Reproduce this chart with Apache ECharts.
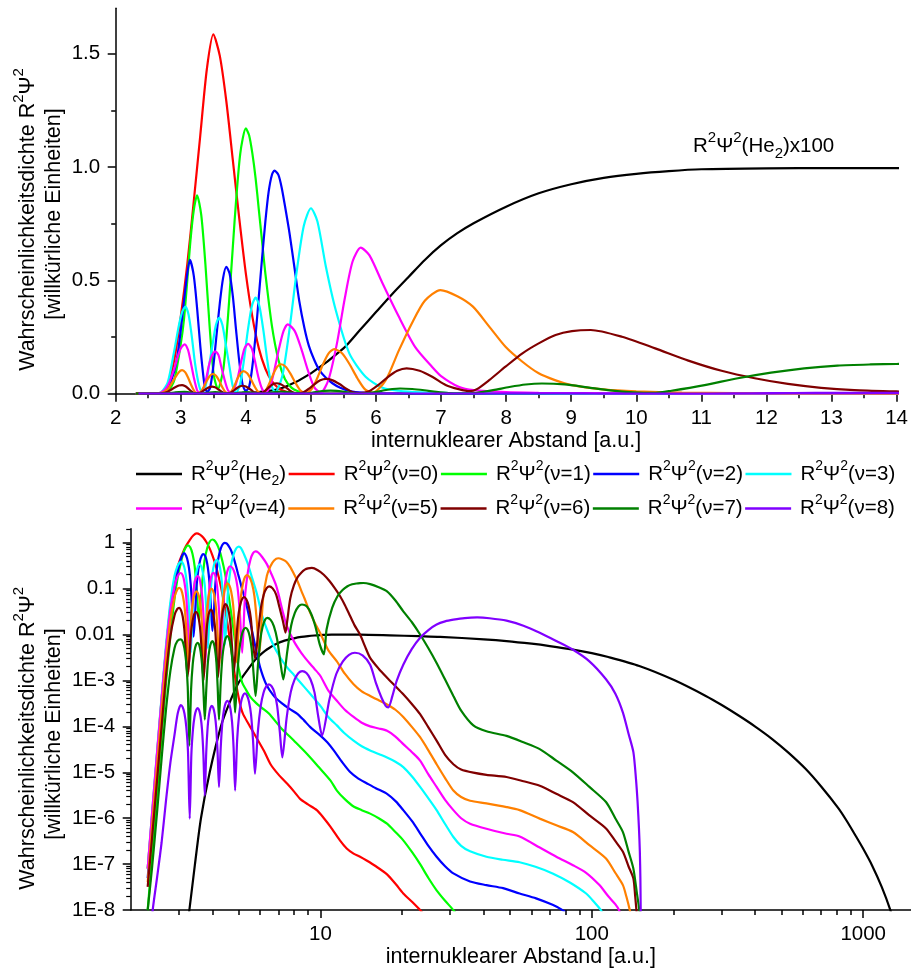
<!DOCTYPE html>
<html><head><meta charset="utf-8">
<script src="https://cdn.jsdelivr.net/npm/echarts@6/dist/echarts.min.js"></script>
<style>html,body{margin:0;padding:0;background:#fff}#c{width:911px;height:969px}</style>
</head><body><div id="c"></div>
<script>
const FONT = "'Liberation Sans', Arial, Helvetica, sans-serif";

// ---- data: [internuclear distance (a.u.), R^2 Psi^2] ----
const He2 = [[3.2,3e-9],[3.29,1e-8],[3.45,1e-7],[3.63,1e-6],[3.91,1e-5],[4.3,1e-4],[4.6,3e-4],[5.0,9e-4],[5.5,2e-3],[5.75,2.8e-3],[6.0,3.6e-3],[6.25,4.4e-3],[6.5,5.15e-3],[6.75,5.9e-3],[7.0,6.55e-3],[7.25,7.08e-3],[7.5,7.52e-3],[8.0,8.25e-3],[8.5,8.84e-3],[9.0,9.24e-3],[9.5,9.52e-3],[10,9.7e-3],[10.5,9.82e-3],[11,9.9e-3],[12,9.94e-3],[13,9.95e-3],[14,9.95e-3],[18,9.6e-3],[23,9.2e-3],[27.6,8.9e-3],[40,7.85e-3],[48.5,7.2e-3],[60,6.3e-3],[70,5.6e-3],[85.2,4.7e-3],[100,3.93e-3],[115,3.23e-3],[149.6,2.06e-3],[200,1.03e-3],[263,4.6e-4],[300,2.95e-4],[348.6,1.7e-4],[400,9.9e-5],[462,5.3e-5],[530,2.68e-5],[613,1.19e-5],[700,4.9e-6],[812,1.62e-6],[870,8.7e-7],[935,4.27e-7],[1000,2.16e-7],[1077,9.5e-8],[1170,3.2e-8],[1259,1e-8],[1300,5e-9]];

const v0 = [[2.31,8e-8],[2.4,1.2e-6],[2.5,2.4e-5],[2.6,4e-4],[2.7,5e-3],[2.8,0.04],[2.9,0.15],[3.0,0.34],[3.1,0.57],[3.2,0.85],[3.3,1.14],[3.4,1.43],[3.5,1.585],[3.6,1.49],[3.7,1.29],[3.8,1.03],[3.9,0.77],[4.0,0.53],[4.1,0.34],[4.2,0.2],[4.3,0.11],[4.4,0.055],[4.5,0.025],[4.6,0.011],[4.7,4.5e-3],[4.8,1.8e-3],[4.9,8e-4],[5.0,4.2e-4],[5.1,2.5e-4],[5.2,1.8e-4],[5.5,1e-4],[5.8,5.8e-5],[6.2,2.9e-5],[6.55,1.5e-5],[7.0,9e-6],[7.55,5.6e-6],[8.0,3.8e-6],[8.44,2.6e-6],[9.0,2.0e-6],[9.7,1.5e-6],[10.3,1.0e-6],[10.9,6.5e-7],[11.8,3.3e-7],[12.5,2.2e-7],[13.25,1.7e-7],[14,1.45e-7],[14.8,1.2e-7],[16,9e-8],[17.6,6e-8],[19,3.6e-8],[20.2,2.3e-8],[21.8,1.5e-8],[23.3,1e-8],[25,6e-9]];

const v1 = [[2.31,1e-8],[2.4,1.6e-7],[2.5,3.5e-6],[2.6,6e-5],[2.7,9e-4],[2.8,9e-3],[2.9,0.06],[3.0,0.22],[3.05,0.33],[3.1,0.5],[3.15,0.68],[3.2,0.81],[3.25,0.875],[3.314,0.79],[3.378,0.573],[3.442,0.302],[3.506,0.084],[3.57,0.02],[3.656,0.112],[3.742,0.404],[3.828,0.766],[3.914,1.059],[4.0,1.17],[4.05,1.14],[4.1,1.06],[4.15,0.95],[4.2,0.81],[4.25,0.67],[4.3,0.53],[4.4,0.3],[4.5,0.15],[4.6,0.065],[4.7,0.027],[4.8,0.011],[4.9,4.2e-3],[5.0,1.8e-3],[5.15,9e-4],[5.3,6.5e-4],[5.5,4.5e-4],[5.8,3.2e-4],[6.1,2.5e-4],[6.46,1.9e-4],[7.13,9.5e-5],[7.98,4.9e-5],[8.93,2.5e-5],[9.86,1.3e-5],[10.9,6.6e-6],[11.5,4e-6],[12.3,2.6e-6],[13.25,1.8e-6],[14.2,1.5e-6],[15.25,1.26e-6],[16.4,1e-6],[17.6,7.6e-7],[18.9,5e-7],[20.2,3.3e-7],[21.8,1.8e-7],[23.3,1e-7],[25,5e-8],[26.8,2.7e-8],[28.8,1.6e-8],[30.9,1e-8],[33,6e-9]];

const v2 = [[2.31,5e-8],[2.4,8e-7],[2.5,1.4e-5],[2.6,2.2e-4],[2.7,2.8e-3],[2.8,0.022],[2.9,0.1],[2.95,0.17],[3.0,0.28],[3.05,0.41],[3.1,0.53],[3.14,0.59],[3.2,0.52],[3.25,0.38],[3.3,0.21],[3.35,0.07],[3.38,0.018],[3.41,0.009],[3.45,0.025],[3.5,0.12],[3.55,0.26],[3.6,0.4],[3.65,0.51],[3.7,0.56],[3.75,0.53],[3.8,0.43],[3.85,0.28],[3.9,0.14],[3.95,0.04],[4.0,0.012],[4.05,0.03],[4.1,0.12],[4.15,0.26],[4.2,0.43],[4.25,0.6],[4.3,0.76],[4.35,0.89],[4.4,0.965],[4.44,0.984],[4.5,0.965],[4.55,0.91],[4.6,0.83],[4.67,0.71],[4.75,0.55],[4.82,0.41],[4.9,0.29],[4.97,0.21],[5.05,0.15],[5.13,0.104],[5.23,0.07],[5.33,0.046],[5.45,0.026],[5.6,0.012],[5.8,4.5e-3],[6.0,1.9e-3],[6.3,8.5e-4],[6.7,4.8e-4],[7.2,3.2e-4],[7.7,2.4e-4],[8.2,1.9e-4],[8.7,1.35e-4],[9.2,9.5e-5],[10,6.3e-5],[10.6,4.5e-5],[11.2,3e-5],[12,1.7e-5],[12.9,1e-5],[13.8,7.3e-6],[14.8,5.8e-6],[16,4.5e-6],[17.6,3.4e-6],[19,2.3e-6],[20.2,1.5e-6],[21.8,8.5e-7],[23.3,4.7e-7],[25,2.5e-7],[26.8,1.45e-7],[28.8,9e-8],[30.9,6.3e-8],[35.6,4.2e-8],[40.9,3.5e-8],[47.1,3e-8],[54.2,2.3e-8],[62.3,1.8e-8],[71.7,1.3e-8],[78,1e-8],[82,8e-9]];

const v3 = [[2.31,8e-8],[2.4,1.4e-6],[2.5,2.7e-5],[2.6,4.5e-4],[2.7,6e-3],[2.8,0.05],[2.9,0.19],[2.97,0.3],[3.02,0.36],[3.07,0.384],[3.12,0.348],[3.17,0.251],[3.22,0.132],[3.28,0.037],[3.33,0.004],[3.38,0.032],[3.43,0.116],[3.49,0.22],[3.54,0.303],[3.59,0.335],[3.64,0.303],[3.69,0.22],[3.75,0.116],[3.8,0.032],[3.85,0.005],[3.91,0.04],[3.97,0.146],[4.03,0.278],[4.09,0.384],[4.15,0.424],[4.21,0.384],[4.27,0.278],[4.33,0.146],[4.39,0.04],[4.45,0.006],[4.56,0.078],[4.67,0.282],[4.78,0.536],[4.89,0.74],[5.0,0.818],[5.1,0.76],[5.23,0.56],[5.38,0.37],[5.59,0.178],[5.84,0.075],[6.1,0.026],[6.35,0.013],[6.7,6e-3],[7.1,3.2e-3],[7.55,1.9e-3],[8.0,1.3e-3],[8.44,9e-4],[9.2,5e-4],[10,2.8e-4],[10.7,1.6e-4],[11.5,1.05e-4],[12.3,7e-5],[13.25,4.9e-5],[14.2,3.7e-5],[15.25,3e-5],[16.4,2.5e-5],[17.6,2.1e-5],[18.9,1.7e-5],[20.2,1.3e-5],[21.8,8e-6],[23.3,4.8e-6],[25,2.7e-6],[26.8,1.5e-6],[28.8,7.5e-7],[30.9,3.9e-7],[33,2.5e-7],[35.6,1.9e-7],[40.9,1.45e-7],[47,1.25e-7],[54.2,1.1e-7],[62,8.8e-8],[71.7,6.3e-8],[83,4e-8],[95.3,2.3e-8],[102,1.5e-8],[108,1e-8],[112,6e-9]];

const v4 = [[2.31,8e-8],[2.4,1.4e-6],[2.5,2.6e-5],[2.6,4e-4],[2.7,5e-3],[2.8,0.035],[2.9,0.11],[2.95,0.16],[3.0,0.2],[3.06,0.218],[3.11,0.194],[3.15,0.144],[3.2,0.072],[3.25,0.016],[3.29,2.5e-3],[3.34,0.018],[3.39,0.065],[3.43,0.122],[3.48,0.17],[3.53,0.187],[3.58,0.17],[3.62,0.122],[3.67,0.065],[3.72,0.018],[3.77,2.5e-3],[3.82,0.021],[3.88,0.076],[3.93,0.144],[3.98,0.2],[4.035,0.22],[4.09,0.2],[4.14,0.144],[4.19,0.076],[4.25,0.021],[4.3,3e-3],[4.37,0.029],[4.44,0.106],[4.51,0.2],[4.58,0.277],[4.645,0.306],[4.75,0.277],[4.85,0.2],[4.95,0.106],[5.05,0.029],[5.15,4e-3],[5.27,0.0615],[5.4,0.222],[5.52,0.42],[5.64,0.583],[5.765,0.644],[5.9,0.61],[6.1,0.487],[6.35,0.34],[6.6,0.207],[6.86,0.119],[7.0,0.078],[7.27,0.031],[7.5,0.016],[8.0,7e-3],[8.5,4e-3],[9.0,2.6e-3],[9.5,1.8e-3],[10,1.25e-3],[10.7,6e-4],[11.5,3.6e-4],[12.3,2.3e-4],[13.25,1.6e-4],[14.2,1.2e-4],[15.25,1e-4],[16.4,9e-5],[17.6,8e-5],[18.9,6e-5],[20.2,4.1e-5],[21.8,2.7e-5],[23.3,1.8e-5],[25,9e-6],[26.8,4.8e-6],[28.8,2.5e-6],[30.9,1.5e-6],[33,1e-6],[35.6,7.6e-7],[40.9,5.9e-7],[48.5,4.6e-7],[54.2,4e-7],[64.3,2.3e-7],[74,1.45e-7],[85.2,9.5e-8],[95.3,6.5e-8],[106.7,3.5e-8],[115,2e-8],[122,1.35e-8],[126,1e-8],[130,5e-9]];

const v5 = [[2.31,4e-8],[2.4,7e-7],[2.5,1.3e-5],[2.6,2.2e-4],[2.7,2.8e-3],[2.8,0.02],[2.9,0.065],[2.97,0.095],[3.02,0.104],[3.07,0.094],[3.116,0.068],[3.164,0.036],[3.212,0.01],[3.26,1.5e-3],[3.307,8.3e-3],[3.354,0.03],[3.4,0.057],[3.448,0.079],[3.495,0.087],[3.542,0.079],[3.59,0.057],[3.636,0.03],[3.683,8.3e-3],[3.73,1.5e-3],[3.777,9.6e-3],[3.824,0.0345],[3.87,0.0655],[3.917,0.09],[3.964,0.1],[4.02,0.09],[4.075,0.0655],[4.13,0.0345],[4.185,9.6e-3],[4.24,2e-3],[4.3,0.0124],[4.36,0.045],[4.42,0.085],[4.48,0.118],[4.54,0.13],[4.616,0.118],[4.692,0.085],[4.768,0.045],[4.844,0.0124],[4.92,2.5e-3],[5.008,0.019],[5.096,0.068],[5.184,0.129],[5.272,0.178],[5.36,0.197],[5.478,0.178],[5.596,0.129],[5.714,0.068],[5.832,0.019],[5.95,4e-3],[6.15,0.06],[6.35,0.19],[6.55,0.31],[6.75,0.41],[6.99,0.457],[7.25,0.43],[7.49,0.384],[7.74,0.296],[7.99,0.207],[8.25,0.141],[8.5,0.09],[8.75,0.06],[9.01,0.038],[9.53,0.018],[10,0.0105],[10.7,4.5e-3],[11.5,2.6e-3],[12.3,1.4e-3],[13.25,8.3e-4],[14.2,5.8e-4],[15.25,4.6e-4],[16.4,3.7e-4],[17.6,3e-4],[18.9,2.3e-4],[20.2,1.6e-4],[21.8,9.5e-5],[23.3,5.8e-5],[25,3e-5],[26.8,1.5e-5],[28.8,7.5e-6],[30.9,4e-6],[33,2.9e-6],[35.6,2.4e-6],[40.9,2.1e-6],[48.5,1.75e-6],[54.2,1.5e-6],[64.3,9.8e-7],[74,7e-7],[85.2,5e-7],[98,2.6e-7],[112.8,1.33e-7],[122,6.5e-8],[130.2,3.5e-8],[134,2e-8],[138,1e-8],[141,5e-9]];

const v6 = [[2.31,3.2e-8],[2.4,4e-7],[2.5,6.5e-6],[2.6,1e-4],[2.7,1.3e-3],[2.8,9e-3],[2.9,0.026],[2.97,0.036],[3.02,0.038],[3.064,0.034],[3.108,0.025],[3.152,0.013],[3.196,3.6e-3],[3.24,1.2e-3],[3.288,3e-3],[3.336,0.0107],[3.384,0.0203],[3.432,0.028],[3.48,0.031],[3.526,0.028],[3.572,0.0203],[3.618,0.0107],[3.664,3e-3],[3.71,1e-3],[3.758,3.3e-3],[3.806,0.012],[3.854,0.023],[3.902,0.0317],[3.95,0.035],[4.0,0.0317],[4.05,0.023],[4.1,0.012],[4.15,3.3e-3],[4.2,1.2e-3],[4.254,4.4e-3],[4.308,0.0159],[4.362,0.0301],[4.416,0.0416],[4.47,0.046],[4.536,0.0416],[4.602,0.0301],[4.668,0.0159],[4.734,4.4e-3],[4.8,1.5e-3],[4.886,6.2e-3],[4.972,0.0224],[5.058,0.0426],[5.144,0.0588],[5.23,0.065],[5.334,0.0588],[5.438,0.0426],[5.542,0.0224],[5.646,6.2e-3],[5.75,3e-3],[5.894,0.0107],[6.038,0.0386],[6.182,0.0734],[6.326,0.101],[6.47,0.112],[6.67,0.101],[6.87,0.0734],[7.07,0.0386],[7.27,0.02],[7.44,0.011],[7.55,0.02],[7.74,0.06],[7.99,0.119],[8.25,0.178],[8.5,0.222],[8.76,0.259],[9.01,0.276],[9.3,0.281],[9.78,0.251],[10.29,0.2],[10.8,0.146],[11.31,0.101],[11.82,0.068],[12.33,0.043],[12.84,0.026],[13.35,0.016],[14,0.01],[14.6,5.5e-3],[15.25,3.1e-3],[16.4,1.8e-3],[17.6,1.15e-3],[18.9,7.5e-4],[20.2,5e-4],[21.8,3e-4],[23.3,1.85e-4],[25,9.5e-5],[26.8,4.9e-5],[28.8,2.4e-5],[30.9,1.5e-5],[33,1.15e-5],[36.6,9.8e-6],[40.9,8.8e-6],[48.5,7.9e-6],[56,6.4e-6],[64.3,5.1e-6],[74,3.4e-6],[85.2,2.24e-6],[98,1.15e-6],[112.8,6e-7],[122,3.2e-7],[130.2,1.86e-7],[136.5,9e-8],[142.3,4.9e-8],[144.5,2e-8],[146,1e-8],[148,4e-9]];

const v7 = [[2.31,1e-8],[2.4,9e-8],[2.5,1.3e-6],[2.6,2e-5],[2.7,2.4e-4],[2.8,1.6e-3],[2.9,5e-3],[2.97,7.2e-3],[3.06,7.8e-3],[3.106,7.06e-3],[3.152,5.1e-3],[3.198,2.7e-3],[3.244,7.4e-4],[3.29,3.8e-5],[3.338,6.3e-4],[3.386,2.3e-3],[3.434,4.3e-3],[3.482,6e-3],[3.53,6.6e-3],[3.574,6e-3],[3.618,4.3e-3],[3.662,2.3e-3],[3.706,6.3e-4],[3.75,1.4e-4],[3.8,6.9e-4],[3.85,2.5e-3],[3.9,4.7e-3],[3.95,6.5e-3],[4.0,7.2e-3],[4.046,6.5e-3],[4.092,4.7e-3],[4.138,2.5e-3],[4.184,6.9e-4],[4.23,1.4e-4],[4.292,8.8e-4],[4.354,3.2e-3],[4.416,6e-3],[4.478,8.3e-3],[4.54,9.2e-3],[4.602,8.3e-3],[4.664,6e-3],[4.726,3.2e-3],[4.788,8.8e-4],[4.85,2e-4],[4.94,1.34e-3],[5.03,4.8e-3],[5.12,9.2e-3],[5.21,0.0127],[5.3,0.014],[5.394,0.0127],[5.488,9.2e-3],[5.582,4.8e-3],[5.676,1.34e-3],[5.77,4.6e-4],[5.89,2.2e-3],[6.01,7.9e-3],[6.13,0.0151],[6.25,0.0208],[6.37,0.023],[6.556,0.0208],[6.742,0.0151],[6.928,7.9e-3],[7.114,2.6e-3],[7.3,1.05e-3],[7.55,4.3e-3],[7.8,0.0155],[8.05,0.0295],[8.3,0.0407],[8.55,0.045],[8.9,0.041],[9.25,0.028],[9.6,0.0145],[9.95,6e-3],[10.3,3.7e-3],[10.54,0.013],[11.05,0.038],[11.56,0.068],[12.07,0.093],[12.58,0.112],[13.09,0.124],[13.6,0.129],[14,0.131],[14.4,0.132],[15.25,0.125],[16.4,0.107],[17.6,0.087],[18.9,0.055],[20.2,0.032],[21.8,0.018],[23.3,0.01],[25,5e-3],[26.8,2.4e-3],[28.8,1.05e-3],[30.9,4.6e-4],[33,2.2e-4],[36.6,1.05e-4],[40.9,7.8e-5],[48.5,6.2e-5],[56,4.5e-5],[64.3,3.2e-5],[74,1.8e-5],[85.2,1e-5],[98,4.8e-6],[112.8,2.25e-6],[122,1e-6],[130.2,5e-7],[136.5,1.9e-7],[142.3,8e-8],[146.5,2.4e-8],[149.6,1e-8],[152,3e-9]];

const v8 = [[2.35,2e-9],[2.41,1e-8],[2.5,5e-8],[2.6,3e-7],[2.7,2.5e-6],[2.8,1.6e-5],[2.9,6.5e-5],[2.98,1.9e-4],[3.06,2.9e-4],[3.108,2.62e-4],[3.156,1.9e-4],[3.204,1e-4],[3.252,2.8e-5],[3.3,9.8e-7],[3.346,2.4e-5],[3.392,8.6e-5],[3.438,1.64e-4],[3.484,2.26e-4],[3.53,2.5e-4],[3.574,2.26e-4],[3.618,1.64e-4],[3.662,8.6e-5],[3.706,2.4e-5],[3.75,3.1e-6],[3.796,2.7e-5],[3.842,9.7e-5],[3.888,1.83e-4],[3.934,2.53e-4],[3.98,2.8e-4],[4.03,2.53e-4],[4.08,1.83e-4],[4.13,9.7e-5],[4.18,2.7e-5],[4.23,4.8e-6],[4.292,3.4e-5],[4.354,1.24e-4],[4.416,2.36e-4],[4.478,3.26e-4],[4.54,3.6e-4],[4.602,3.26e-4],[4.664,2.36e-4],[4.726,1.24e-4],[4.788,3.4e-5],[4.85,4e-6],[4.934,5e-5],[5.018,1.8e-4],[5.102,3.4e-4],[5.186,4.7e-4],[5.27,5.2e-4],[5.364,4.7e-4],[5.458,3.4e-4],[5.552,1.8e-4],[5.646,5e-5],[5.74,9.3e-6],[5.884,7.8e-5],[6.028,2.8e-4],[6.172,5.4e-4],[6.316,7.4e-4],[6.46,8.2e-4],[6.616,7.4e-4],[6.772,5.4e-4],[6.928,2.8e-4],[7.084,7.8e-5],[7.24,2.1e-5],[7.506,1.5e-4],[7.772,5.5e-4],[8.038,1.05e-3],[8.304,1.45e-3],[8.57,1.6e-3],[8.884,1.45e-3],[9.198,1.05e-3],[9.512,5.5e-4],[9.826,1.6e-4],[10.14,6.3e-5],[10.79,3.8e-4],[11.44,1.38e-3],[12.1,2.6e-3],[12.75,3.6e-3],[13.4,4e-3],[14.3,3.5e-3],[15.25,2.2e-3],[16.0,9e-4],[16.8,4.2e-4],[17.4,2.8e-4],[17.8,2.6e-4],[18.4,4.5e-4],[19.1,9.8e-4],[20.2,2.2e-3],[21.7,4.8e-3],[23.3,8.5e-3],[25,0.0125],[26.8,0.0165],[28.8,0.0193],[30.9,0.021],[34,0.0228],[37.8,0.0235],[42,0.0226],[48.5,0.02],[56,0.0155],[64.3,0.0109],[74,7.2e-3],[85,4.7e-3],[98,2.6e-3],[112.8,1.06e-3],[122,5.2e-4],[130.2,2e-4],[136.5,7e-5],[142.3,2.75e-5],[145.5,7e-6],[147.5,2.2e-6],[149.2,6e-7],[150.3,1.9e-7],[151,5e-8],[151.4,1e-8],[152,1e-9]];

const seriesNames = ['He2','v0','v1','v2','v3','v4','v5','v6','v7','v8'];
const seriesData = [He2, v0, v1, v2, v3, v4, v5, v6, v7, v8];
const legendLabels = ['R{s|2}Ψ{s|2}(He{b|2})','R{s|2}Ψ{s|2}(ν=0)','R{s|2}Ψ{s|2}(ν=1)','R{s|2}Ψ{s|2}(ν=2)','R{s|2}Ψ{s|2}(ν=3)','R{s|2}Ψ{s|2}(ν=4)','R{s|2}Ψ{s|2}(ν=5)','R{s|2}Ψ{s|2}(ν=6)','R{s|2}Ψ{s|2}(ν=7)','R{s|2}Ψ{s|2}(ν=8)'];
const colors = ['#000000','#FF0000','#00FF00','#0000FF','#00FFFF','#FF00FF','#FF8000','#800000','#008000','#8000FF'];
const He2Scale = 100; // top panel shows He2 x100

// axis tick values
const topYTicks = [0,0.5,1.0,1.5];
const logXMajor = [10,100,1000];
const logXMinor = [3,4,5,6,7,8,9,20,30,40,50,60,70,80,90,200,300,400,500,600,700,800,900];
const logYMajor = [1e-8,1e-7,1e-6,1e-5,1e-4,1e-3,1e-2,1e-1,1];
const logYMinor = [];
for (const d of [1e-8,1e-7,1e-6,1e-5,1e-4,1e-3,1e-2,1e-1]) for (let k = 2; k <= 9; k++) logYMinor.push(+(k*d).toPrecision(3));
logYMinor.push(2);

const rich = {
  s: {fontSize: 14, fontFamily: FONT, color: '#000', padding: [0,0,16,0]},
  b: {fontSize: 14, fontFamily: FONT, color: '#000', padding: [14,0,0,0]}
};
const richT = {
  s: {fontSize: 15, fontFamily: FONT, fill: '#000', color: '#000', padding: [0,0,17,0]},
  b: {fontSize: 15, fontFamily: FONT, fill: '#000', color: '#000', padding: [15,0,0,0]}
};

const LW = 2.2;
const axisLine = {show: true, lineStyle: {color: '#000', width: 1.5}};
const labelStyle = {color: '#000', fontSize: 20.5, fontFamily: FONT};

function yLogLabel(v) {
  const e = Math.round(Math.log10(v));
  if (e === 0) return '1';
  if (e === -1) return '0.1';
  if (e === -2) return '0.01';
  return '1E' + e;
}

const series = [];
seriesNames.forEach((n, i) => {
  const topData = i === 0 ? seriesData[i].map(p => [p[0], p[1] * He2Scale]) : seriesData[i];
  series.push({name: n, type: 'line', xAxisIndex: 0, yAxisIndex: 0, data: topData, symbol: 'none', showSymbol: false,
    smooth: 0.25, lineStyle: {color: colors[i], width: LW}, itemStyle: {color: colors[i]}, silent: true, animation: false});
  series.push({name: n, type: 'line', xAxisIndex: 1, yAxisIndex: 1, data: seriesData[i], symbol: 'none', showSymbol: false,
    smooth: 0.25, lineStyle: {color: colors[i], width: LW}, itemStyle: {color: colors[i]}, silent: true, animation: false});
});

const option = {
  backgroundColor: '#fff',
  animation: false,
  textStyle: {fontFamily: FONT},
  grid: [
    {left: 115.7, top: 8.3, width: 783.6, height: 385.4},
    {left: 130.7, top: 528.8, width: 781.9, height: 383.2}
  ],
  xAxis: [
    {gridIndex: 0, type: 'value', min: 2, max: 14, interval: 1, axisLine,
     axisTick: {show: true, length: 8, lineStyle: {color: '#000', width: 1.5}},
     minorTick: {show: true, splitNumber: 2, length: 4.5, lineStyle: {color: '#000', width: 1.5}},
     axisLabel: Object.assign({margin: 14}, labelStyle), splitLine: {show: false},
     name: 'internuklearer Abstand [a.u.]', nameLocation: 'middle', nameGap: 33,
     nameTextStyle: {color: '#000', fontSize: 21.5, fontFamily: FONT}},
    {gridIndex: 1, type: 'log', logBase: 10, min: 2, max: 1500, axisLine,
     axisTick: {show: true, length: 8, customValues: logXMajor, lineStyle: {color: '#000', width: 1.5}},
     axisLabel: Object.assign({margin: 14, customValues: logXMajor, formatter: v => String(Math.round(v))}, labelStyle),
     splitLine: {show: false}, minorTick: {show: false},
     name: 'internuklearer Abstand [a.u.]', nameLocation: 'middle', nameGap: 33,
     nameTextStyle: {color: '#000', fontSize: 21.5, fontFamily: FONT}},
    {gridIndex: 1, type: 'log', logBase: 10, min: 2, max: 1500, position: 'bottom', offset: 0,
     axisLine: {show: false}, axisLabel: {show: false}, splitLine: {show: false},
     axisTick: {show: true, length: 5, customValues: logXMinor, lineStyle: {color: '#000', width: 1.5}}}
  ],
  yAxis: [
    {gridIndex: 0, type: 'value', min: 0, max: 1.7, interval: 0.5, axisLine,
     axisTick: {show: true, length: 8, customValues: topYTicks, lineStyle: {color: '#000', width: 1.5}},
     minorTick: {show: true, splitNumber: 2, length: 4.5, lineStyle: {color: '#000', width: 1.5}},
     axisLabel: Object.assign({margin: 15.5, customValues: topYTicks, formatter: v => v.toFixed(1)}, labelStyle),
     splitLine: {show: false}},
    {gridIndex: 1, type: 'log', logBase: 10, min: 1e-8, max: 2, axisLine,
     axisTick: {show: true, length: 8, customValues: logYMajor, lineStyle: {color: '#000', width: 1.5}},
     axisLabel: Object.assign({margin: 15.5, customValues: logYMajor, formatter: yLogLabel}, labelStyle),
     splitLine: {show: false}, minorTick: {show: false}},
    {gridIndex: 1, type: 'log', logBase: 10, min: 1e-8, max: 2, position: 'left', offset: 0,
     axisLine: {show: false}, axisLabel: {show: false}, splitLine: {show: false},
     axisTick: {show: true, length: 4.5, customValues: logYMinor, lineStyle: {color: '#000', width: 1.2}}}
  ],
  legend: {
    show: true, left: 136, top: 458, width: 800, padding: 0, itemGap: 2.5,
    itemWidth: 46, itemHeight: 2.5, icon: 'rect', selectedMode: false,
    data: seriesNames,
    formatter: name => legendLabels[seriesNames.indexOf(name)],
    textStyle: {color: '#000', fontSize: 20.5, fontFamily: FONT, lineHeight: 32, width: 88.7, padding: [0,0,0,4], rich}
  },
  graphic: [
    {type: 'text', x: 27.7, y: 219.5, rotation: Math.PI / 2, silent: true,
     style: {text: 'Wahrscheinlichkeitsdichte R{s|2}Ψ{s|2}', fontSize: 21.5, fontFamily: FONT, fill: '#000', align: 'center', verticalAlign: 'middle', lineHeight: 32, rich: richT}},
    {type: 'text', x: 54, y: 214, rotation: Math.PI / 2, silent: true,
     style: {text: '[willkürliche Einheiten]', fontSize: 21.5, fontFamily: FONT, fill: '#000', align: 'center', verticalAlign: 'middle'}},
    {type: 'text', x: 27.7, y: 738.3, rotation: Math.PI / 2, silent: true,
     style: {text: 'Wahrscheinlichkeitsdichte R{s|2}Ψ{s|2}', fontSize: 21.5, fontFamily: FONT, fill: '#000', align: 'center', verticalAlign: 'middle', lineHeight: 32, rich: richT}},
    {type: 'text', x: 54, y: 734, rotation: Math.PI / 2, silent: true,
     style: {text: '[willkürliche Einheiten]', fontSize: 21.5, fontFamily: FONT, fill: '#000', align: 'center', verticalAlign: 'middle'}},
    {type: 'text', x: 693, y: 146, silent: true,
     style: {text: 'R{s|2}Ψ{s|2}(He{b|2})x100', fontSize: 20.5, fontFamily: FONT, fill: '#000', align: 'left', verticalAlign: 'middle', lineHeight: 32, rich: richT}}
  ],
  series
};

const chart = echarts.init(document.getElementById('c'), null, {renderer: 'canvas', width: 911, height: 969});
chart.setOption(option);
</script>
</body></html>
